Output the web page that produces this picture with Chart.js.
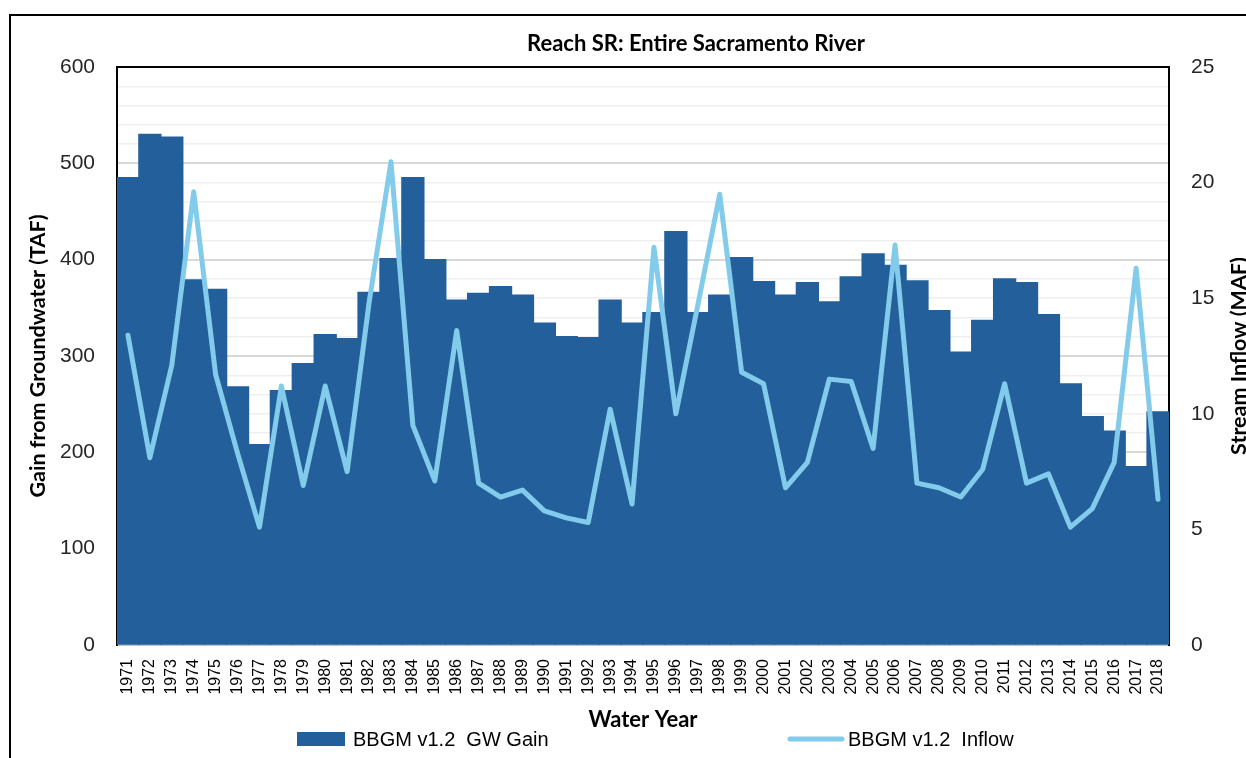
<!DOCTYPE html>
<html>
<head>
<meta charset="utf-8">
<script src="https://cdn.jsdelivr.net/npm/chart.js@4.4.1/dist/chart.umd.min.js"></script>
<style>
  html, body { margin: 0; padding: 0; background: #fff; overflow: hidden; }
  #wrap { position: relative; width: 1246px; height: 758px; overflow: hidden; }
  #frame { position: absolute; left: 9px; top: 14px; width: 1400px; height: 800px; border: 2px solid #000; box-sizing: border-box; }
  canvas { position: absolute; left: 0; top: 0; }
</style>
</head>
<body>
<div id="wrap">
  <div id="frame"></div>
  <canvas id="myChart" width="1246" height="758"></canvas>
</div>
<script>
const years = ['1971','1972','1973','1974','1975','1976','1977','1978','1979','1980',
  '1981','1982','1983','1984','1985','1986','1987','1988','1989','1990',
  '1991','1992','1993','1994','1995','1996','1997','1998','1999','2000',
  '2001','2002','2003','2004','2005','2006','2007','2008','2009','2010',
  '2011','2012','2013','2014','2015','2016','2017','2018'];

// Gain from groundwater, TAF (left axis)
const gwGain = [485, 530, 527, 379, 369, 268, 208, 264, 292, 322,
  318, 366, 401, 485, 400, 358, 365, 372, 363, 334,
  320, 319, 358, 334, 345, 429, 345, 363, 402, 377,
  363, 376, 356, 382, 406, 394, 378, 347, 304, 337,
  380, 376, 343, 271, 237, 222, 185, 242];

// Stream inflow, MAF (right axis)
const inflow = [13.4, 8.1, 12.1, 19.6, 11.7, 8.3, 5.1, 11.2, 6.9, 11.2,
  7.5, 14.8, 20.9, 9.5, 7.1, 13.6, 7.0, 6.4, 6.7, 5.8,
  5.5, 5.3, 10.2, 6.1, 17.2, 10.0, 14.7, 19.5, 11.8, 11.3,
  6.8, 7.9, 11.5, 11.4, 8.5, 17.3, 7.0, 6.8, 6.4, 7.6,
  11.3, 7.0, 7.4, 5.1, 5.9, 7.9, 16.3, 6.3];

const leftMax = 600, leftStep = 20, leftLabelStep = 100;
const rightMax = 25, rightStep = 5;

const chartTitle = 'Reach SR: Entire Sacramento River';
const xTitle = 'Water Year';
const yTitle = 'Gain from Groundwater (TAF)';
const y2Title = 'Stream Inflow (MAF)';

const tickFont = { family: "'Liberation Sans', Arial, sans-serif", size: 21 };

// titles and legend drawn by hand, the original has them off-center
const extras = {
  id: 'extras',
  afterDraw(chart) {
    const { ctx, chartArea: a } = chart;
    const midY = (a.top + a.bottom) / 2;
    ctx.save();
    ctx.fillStyle = '#000';
    ctx.textBaseline = 'middle';
    ctx.textAlign = 'center';
    ctx.font = "bold 22px Lato";
    ctx.fillText(chartTitle, 696, 44);
    ctx.fillText(xTitle, (a.left + a.right) / 2, 720);

    ctx.font = "bold 21.5px Lato";
    ctx.save();
    ctx.translate(38, midY);
    ctx.rotate(-Math.PI / 2);
    ctx.fillText(yTitle, 0, 0);
    ctx.restore();

    ctx.save();
    ctx.translate(1239, midY);
    ctx.rotate(-Math.PI / 2);
    ctx.fillText(y2Title, 0, 0);
    ctx.restore();

    // legend
    const bars = chart.data.datasets[0];
    const line = chart.data.datasets[1];
    ctx.textAlign = 'left';
    ctx.font = "20px 'Liberation Sans', Arial";
    ctx.fillStyle = bars.backgroundColor;
    ctx.fillRect(297, 732, 48, 14);
    ctx.fillStyle = '#000';
    ctx.fillText(bars.label, 353, 740);

    ctx.strokeStyle = line.borderColor;
    ctx.lineWidth = 5;
    ctx.lineCap = 'round';
    ctx.beginPath();
    ctx.moveTo(790, 739);
    ctx.lineTo(842, 739);
    ctx.stroke();
    ctx.fillText(line.label, 848, 740);
    ctx.restore();
  }
};

const ctx = document.getElementById('myChart');
const myChart = new Chart(ctx, {
  type: 'bar',
  data: {
    labels: years,
    datasets: [
      {
        label: 'BBGM v1.2  GW Gain',
        data: gwGain,
        yAxisID: 'y',
        backgroundColor: '#23609b',
        borderWidth: 0,
        inflateAmount: 0.7,
        barPercentage: 1.0,
        categoryPercentage: 1.0,
        order: 1
      },
      {
        type: 'line',
        label: 'BBGM v1.2  Inflow',
        data: inflow,
        yAxisID: 'y2',
        borderColor: '#83cbeb',
        backgroundColor: '#83cbeb',
        borderWidth: 5,
        pointRadius: 0,
        tension: 0,
        borderJoinStyle: 'round',
        borderCapStyle: 'round',
        order: 0
      }
    ]
  },
  options: {
    responsive: false,
    animation: false,
    layout: { padding: { top: 67, left: 0, right: 0, bottom: 0 } },
    plugins: {
      legend: { display: false },
      title: { display: false },
      tooltip: { enabled: false }
    },
    scales: {
      x: {
        grid: { display: false },
        border: { color: '#bfbfbf', width: 1 },
        ticks: {
          autoSkip: false,
          minRotation: 90,
          maxRotation: 90,
          padding: 6,
          color: '#000',
          font: { family: "'Liberation Sans', Arial, sans-serif", size: 16 }
        },
        afterFit: s => { s.height = 113; }
      },
      y: {
        position: 'left',
        min: 0,
        max: leftMax,
        ticks: {
          autoSkip: false,
          stepSize: leftStep,
          padding: 22,
          color: '#262626',
          font: tickFont,
          callback: v => (v % leftLabelStep === 0 ? v : '')
        },
        grid: {
          drawTicks: false,
          color: c => (c.tick.value === leftMax ? '#000' : (c.tick.value % leftLabelStep === 0 ? '#d9d9d9' : '#efefef')),
          lineWidth: c => (c.tick.value % leftLabelStep === 0 ? 2 : 1.5)
        },
        border: { color: '#000', width: 2 },
        afterFit: s => { s.width = 117; }
      },
      y2: {
        position: 'right',
        min: 0,
        max: rightMax,
        ticks: {
          autoSkip: false,
          stepSize: rightStep,
          padding: 22,
          color: '#262626',
          font: tickFont
        },
        grid: { display: false, drawTicks: false },
        border: { color: '#000', width: 2 },
        afterFit: s => { s.width = 77; }
      }
    }
  },
  plugins: [extras]
});
</script>
</body>
</html>
